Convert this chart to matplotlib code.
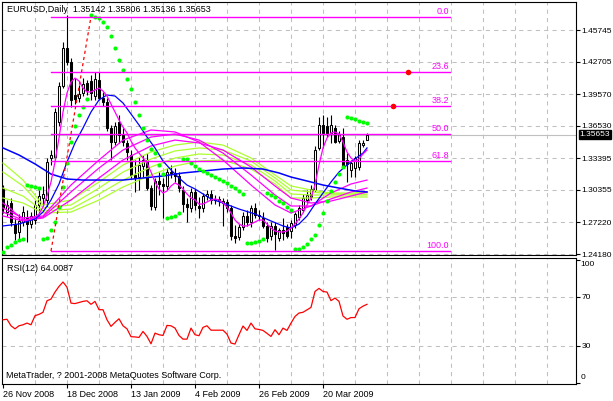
import matplotlib
matplotlib.use('Agg')
import matplotlib.pyplot as plt
import matplotlib.transforms as mtransforms
import numpy as np

plt.rcParams['font.family'] = ['Liberation Sans', 'DejaVu Sans']
plt.rcParams['font.size'] = 6.5

# ---------------- data ----------------
title_text = "EURUSD,Daily  1.35142 1.35806 1.35136 1.35653"
rsi_title = "RSI(12) 64.0087"
copyright_text = "MetaTrader, ? 2001-2008 MetaQuotes Software Corp."

date_ticks = [0, 16, 32, 48, 64, 80]
date_labels = ["26 Nov 2008", "18 Dec 2008", "13 Jan 2009", "4 Feb 2009", "26 Feb 2009", "20 Mar 2009"]
price_ticks = [1.24180, 1.27220, 1.30355, 1.33395, 1.36530, 1.39570, 1.42705, 1.45745]

opens = [1.3054, 1.2822, 1.2909, 1.2707, 1.2630, 1.2726, 1.2765, 1.2707, 1.2745, 1.2890,
         1.2957, 1.2938, 1.3342, 1.3352, 1.3689, 1.4036, 1.4402, 1.4267, 1.3949, 1.3920,
         1.3968, 1.4065, 1.4084, 1.3940, 1.4094, 1.3920, 1.3882, 1.3631, 1.3497, 1.3689,
         1.3564, 1.3487, 1.3371, 1.3179, 1.3160, 1.3265, 1.3323, 1.3054, 1.2871, 1.3121,
         1.3092, 1.3073, 1.3208, 1.3198, 1.3169, 1.3034, 1.2900, 1.2861, 1.3015, 1.2880,
         1.2861, 1.2977, 1.2996, 1.2938, 1.2948, 1.2909, 1.2919, 1.2861, 1.2591, 1.2582,
         1.2678, 1.2784, 1.2726, 1.2861, 1.2794, 1.2765, 1.2688, 1.2591, 1.2688, 1.2572,
         1.2649, 1.2678, 1.2639, 1.2697, 1.2774, 1.2842, 1.2938, 1.2967, 1.3034, 1.3439,
         1.3660, 1.3651, 1.3583, 1.3631, 1.3506, 1.3545, 1.3323, 1.3227, 1.3246, 1.3256,
         1.3468, 1.35142]
highs = [1.3082, 1.2938, 1.2957, 1.2765, 1.2803, 1.2880, 1.2842, 1.2822, 1.2938, 1.3034,
         1.3073, 1.3342, 1.3420, 1.3824, 1.4074, 1.4460, 1.4720, 1.4305, 1.4113, 1.4045,
         1.4113, 1.4094, 1.4142, 1.4171, 1.4171, 1.3978, 1.3920, 1.3660, 1.3689, 1.3757,
         1.3631, 1.3516, 1.3420, 1.3323, 1.3352, 1.3371, 1.3391, 1.3082, 1.3150, 1.3208,
         1.3150, 1.3246, 1.3275, 1.3246, 1.3208, 1.3073, 1.2957, 1.3054, 1.3044, 1.2967,
         1.3005, 1.3034, 1.3034, 1.2986, 1.2977, 1.2957, 1.2948, 1.2890, 1.2697, 1.2707,
         1.2822, 1.2842, 1.2890, 1.2909, 1.2842, 1.2822, 1.2726, 1.2726, 1.2726, 1.2668,
         1.2765, 1.2707, 1.2745, 1.2822, 1.2890, 1.2996, 1.3034, 1.3082, 1.3458, 1.3737,
         1.3757, 1.3737, 1.3757, 1.3660, 1.3602, 1.3631, 1.3391, 1.3323, 1.3362, 1.3516,
         1.3516, 1.35806]
lows = [1.2813, 1.2784, 1.2688, 1.2553, 1.2543, 1.2688, 1.2534, 1.2668, 1.2707, 1.2813,
        1.2880, 1.2871, 1.3275, 1.3323, 1.3651, 1.4017, 1.4238, 1.3834, 1.3863, 1.3882,
        1.3940, 1.3949, 1.3901, 1.3901, 1.3901, 1.3843, 1.3602, 1.3323, 1.3468, 1.3487,
        1.3458, 1.3323, 1.3150, 1.3015, 1.3034, 1.3150, 1.3034, 1.2842, 1.2842, 1.2986,
        1.2765, 1.3034, 1.3150, 1.3111, 1.3015, 1.2822, 1.2726, 1.2822, 1.2842, 1.2765,
        1.2822, 1.2938, 1.2900, 1.2900, 1.2880, 1.2688, 1.2822, 1.2553, 1.2524, 1.2553,
        1.2649, 1.2688, 1.2678, 1.2765, 1.2745, 1.2668, 1.2534, 1.2553, 1.2457, 1.2543,
        1.2553, 1.2572, 1.2572, 1.2668, 1.2745, 1.2822, 1.2909, 1.2938, 1.3015, 1.3420,
        1.3439, 1.3545, 1.3487, 1.3487, 1.3487, 1.3256, 1.3111, 1.3160, 1.3160, 1.3227,
        1.3448, 1.35136]
closes = [1.2861, 1.2890, 1.2726, 1.2620, 1.2736, 1.2822, 1.2707, 1.2784, 1.2890, 1.2977,
          1.2996, 1.3304, 1.3371, 1.3785, 1.4036, 1.4402, 1.4267, 1.3901, 1.3911, 1.3959,
          1.4055, 1.3997, 1.3968, 1.4103, 1.3920, 1.3882, 1.3631, 1.3497, 1.3651, 1.3564,
          1.3497, 1.3400, 1.3179, 1.3150, 1.3275, 1.3323, 1.3054, 1.2880, 1.3121, 1.3092,
          1.3073, 1.3208, 1.3198, 1.3169, 1.3054, 1.2900, 1.2871, 1.3015, 1.2890, 1.2861,
          1.2977, 1.2996, 1.2938, 1.2948, 1.2928, 1.2928, 1.2861, 1.2591, 1.2572, 1.2678,
          1.2784, 1.2726, 1.2861, 1.2794, 1.2784, 1.2688, 1.2572, 1.2688, 1.2611, 1.2649,
          1.2620, 1.2591, 1.2716, 1.2803, 1.2861, 1.2957, 1.2986, 1.3044, 1.3420, 1.3660,
          1.3583, 1.3583, 1.3660, 1.3497, 1.3574, 1.3275, 1.3285, 1.3294, 1.3342, 1.3487,
          1.3487, 1.35653]

sar = [1.2437, 1.2485, 1.2505, 1.2534, 1.2553, 1.2562, 1.3082, 1.3073, 1.3063, 1.3053,
       1.2562, 1.2572, 1.2649, 1.2726, 1.2870, 1.3063, 1.3294, 1.3496, 1.3650, 1.3756,
       1.3833, 1.3910, 1.4719, 1.4700, 1.4690, 1.4652, 1.4603, 1.4517, 1.4401, 1.4286,
       1.4189, 1.4103, 1.4006, 1.3881, 1.3756, 1.3631, 1.3515, 1.3429, 1.3390, 1.3275,
       1.3188, 1.2765, 1.2774, 1.2784, 1.2813, 1.3333, 1.3333, 1.3294, 1.3265, 1.3236,
       1.3217, 1.3198, 1.3179, 1.3159, 1.3140, 1.3121, 1.3102, 1.3073, 1.3053, 1.3025,
       1.2996, 1.2524, 1.2524, 1.2534, 1.2543, 1.2562, 1.3005, 1.2986, 1.2967, 1.2928,
       1.2909, 1.2870, 1.2842, 1.2466, 1.2466, 1.2485, 1.2514, 1.2562, 1.2601, 1.2697,
       1.2813, 1.2928, 1.3025, 1.3111, 1.3188, 1.3256, 1.3737, 1.3727, 1.3718, 1.3698,
       1.3689, 1.3679]

ma_fast = [1.2909, 1.2880, 1.2851, 1.2813, 1.2784, 1.2755, 1.2745, 1.2755, 1.2774, 1.2803,
           1.2871, 1.2976, 1.3111, 1.3304, 1.3535, 1.3785, 1.3968, 1.4074, 1.4112, 1.4084,
           1.4016, 1.3978, 1.3978, 1.3997, 1.4016, 1.3987, 1.3939, 1.3862, 1.3785, 1.3708,
           1.3641, 1.3583, 1.3506, 1.3439, 1.3390, 1.3342, 1.3294, 1.3207, 1.3111, 1.3044,
           1.3005, 1.3025, 1.3073, 1.3102, 1.3082, 1.3044, 1.2996, 1.2957, 1.2938, 1.2899,
           1.2899, 1.2919, 1.2938, 1.2948, 1.2938, 1.2909, 1.2871, 1.2813, 1.2745, 1.2707,
           1.2688, 1.2688, 1.2707, 1.2726, 1.2745, 1.2745, 1.2707, 1.2668, 1.2639, 1.2630,
           1.2630, 1.2639, 1.2668, 1.2707, 1.2755, 1.2813, 1.2890, 1.2957, 1.3082, 1.3275,
           1.3439, 1.3535, 1.3583, 1.3593, 1.3573, 1.3496, 1.3400, 1.3342, 1.3313, 1.3333,
           1.3381, 1.3419]

ma_mid_bars = [0, 4, 8, 10, 12, 14, 16, 18, 20, 22, 24, 26, 28, 30, 32, 34, 36, 38, 40, 42,
               44, 46, 48, 50, 52, 55, 59, 63, 67, 70, 72, 74, 76, 78, 80, 82, 84, 86, 88, 90, 91]
ma_mid = [1.2688, 1.2707, 1.2755, 1.2822, 1.2938, 1.3092, 1.3304, 1.3487, 1.3631, 1.3785,
          1.3901, 1.3949, 1.3939, 1.3872, 1.3766, 1.3660, 1.3544, 1.3439, 1.3313, 1.3227,
          1.3150, 1.3082, 1.3044, 1.2996, 1.2948, 1.2909, 1.2851, 1.2803, 1.2736, 1.2688,
          1.2668, 1.2707, 1.2784, 1.2899, 1.3005, 1.3111, 1.3207, 1.3275, 1.3333, 1.3390, 1.3439]

ma_slow_bars = [0, 4, 8, 12, 16, 20, 24, 30, 35, 40, 45, 50, 55, 60, 65, 69, 72, 76, 80, 84, 88, 91]
ma_slow = [1.3439, 1.3371, 1.3285, 1.3188, 1.3140, 1.3130, 1.3130, 1.3130, 1.3150, 1.3169,
           1.3198, 1.3217, 1.3236, 1.3246, 1.3236, 1.3198, 1.3159, 1.3121, 1.3082, 1.3053,
           1.3025, 1.3015]

ribbon_bars = [0, 5, 10, 17, 24, 30, 37, 43, 49, 55, 62, 68, 72, 77, 82, 87, 91]
magenta_ribbon = [
    [1.2861, 1.2765, 1.2784, 1.3082, 1.3323, 1.3515, 1.3612, 1.3593, 1.3496, 1.3323,
     1.3082, 1.2890, 1.2813, 1.2880, 1.3005, 1.3092, 1.3130],
    [1.2822, 1.2745, 1.2774, 1.3015, 1.3246, 1.3419, 1.3544, 1.3573, 1.3515, 1.3390,
     1.3179, 1.2986, 1.2880, 1.2880, 1.2948, 1.3015, 1.3053],
    [1.2784, 1.2736, 1.2765, 1.2938, 1.3150, 1.3323, 1.3458, 1.3515, 1.3487, 1.3419,
     1.3256, 1.3073, 1.2957, 1.2909, 1.2928, 1.2976, 1.3015],
]
green_ribbon = [
    [1.3294, 1.3130, 1.2890, 1.2938, 1.3111, 1.3275, 1.3400, 1.3467, 1.3496, 1.3467,
     1.3342, 1.3179, 1.3073, 1.3034, 1.3005, 1.3005, 1.3015],
    [1.3207, 1.3073, 1.2861, 1.2890, 1.3053, 1.3207, 1.3333, 1.3410, 1.3439, 1.3419,
     1.3313, 1.3150, 1.3034, 1.3015, 1.2996, 1.2996, 1.2996],
    [1.3053, 1.2976, 1.2832, 1.2851, 1.2996, 1.3130, 1.3256, 1.3342, 1.3381, 1.3371,
     1.3275, 1.3121, 1.2996, 1.2986, 1.2986, 1.2986, 1.2986],
    [1.2957, 1.2909, 1.2813, 1.2822, 1.2938, 1.3063, 1.3179, 1.3265, 1.3313, 1.3323,
     1.3236, 1.3092, 1.2957, 1.2957, 1.2967, 1.2967, 1.2967],
]

rsi = [51.4, 51.8, 46.5, 44.0, 46.5, 47.3, 48.7, 47.3, 54.7, 55.8,
       57.5, 66.9, 68.3, 74.0, 78.6, 82.2, 78.0, 65.0, 64.6, 65.5,
       66.4, 66.9, 64.0, 66.4, 59.6, 59.6, 51.4, 46.0, 49.3, 52.2,
       46.5, 44.0, 37.6, 37.4, 37.0, 41.9, 37.8, 31.8, 40.5, 39.2,
       38.6, 46.8, 46.5, 44.6, 38.6, 35.6, 35.6, 44.6, 39.2, 38.4,
       45.2, 46.5, 42.9, 42.9, 42.9, 42.9, 39.7, 32.4, 31.6, 39.2,
       46.3, 42.7, 48.7, 44.0, 43.5, 42.7, 40.3, 37.8, 43.3, 39.2,
       44.6, 42.7, 48.7, 54.1, 56.9, 57.5, 59.5, 61.5, 74.5, 77.0,
       74.5, 74.0, 67.0, 69.1, 66.4, 54.5, 51.8, 53.2, 53.2, 60.4,
       62.5, 64.0]

fib_high = 1.4703
fib_low = 1.2447
fib_start_bar = 12
fib_top_bar = 22
fib_end_bar = 111.75
fib_levels = [0.0, 23.6, 38.2, 50.0, 61.8, 100.0]
marker_bars = [101.25, 97.6]
marker_levels = [23.6, 38.2]
last_price = 1.35653

# ---------------- layout ----------------
W, H = 613, 401
fig = plt.figure(figsize=(W / 100, H / 100), dpi=100)
fig.patch.set_facecolor('white')
ax = fig.add_axes([2 / W, 1 - 254.5 / H, 574 / W, 253 / H])
axr = fig.add_axes([2 / W, 1 - 383.5 / H, 574 / W, 125.5 / H])

xmin, xmax = -0.25, 143.25
for a in (ax, axr):
    a.set_xlim(xmin, xmax)
    for s in a.spines.values():
        s.set_color('black')
        s.set_linewidth(0.8)

ax.set_ylim(1.24132, 1.48489)
axr.set_ylim(-0.6, 101.8)

grid_kw = dict(color='#C0C0C0', lw=0.75, linestyle=(0, (4, 4)), zorder=0)
for b in range(8, 140, 8):
    ax.axvline(b, **grid_kw)
    axr.axvline(b, **grid_kw)
for p in price_ticks:
    ax.axhline(p, **grid_kw)
for v in (30, 70):
    axr.axhline(v, **grid_kw)

ylab_size = 6.0

# price axis
ax.yaxis.tick_right()
ax.set_yticks(price_ticks)
ax.set_yticklabels([f"{p:.5f}" for p in price_ticks])
ax.tick_params(axis='y', direction='out', length=3, width=0.8, pad=1, labelsize=ylab_size, colors='black')
ax.set_xticks([])

# current price line and label
ax.axhline(last_price, color='#C0C0C0', lw=0.8, zorder=1)
trans = mtransforms.blended_transform_factory(ax.transAxes, ax.transData)
ax.text(1.0 + 3.5 / 574, last_price, f"{last_price:.5f}", transform=trans, color='white', fontsize=ylab_size,
        va='center', ha='left', zorder=10, clip_on=False,
        bbox=dict(boxstyle='square,pad=0.12', fc='black', ec='black'))

# candles
x = np.arange(len(closes))
o = np.array(opens); h = np.array(highs); l = np.array(lows); c = np.array(closes)
ax.vlines(x, l, h, color='black', lw=0.8, zorder=3)
up = c >= o
ax.bar(x[up], c[up] - o[up], bottom=o[up], width=0.5, facecolor='white', edgecolor='black',
       lw=0.75, zorder=4)
ax.bar(x[~up], o[~up] - c[~up], bottom=c[~up], width=0.5, facecolor='black', edgecolor='black',
       lw=0.75, zorder=4)

# moving averages
for series in green_ribbon:
    ax.plot(ribbon_bars, series, color='#ADFF2F', lw=0.9, zorder=5)
for series in magenta_ribbon:
    ax.plot(ribbon_bars, series, color='#FF00FF', lw=0.9, zorder=5)
ax.plot(ma_slow_bars, ma_slow, color='#0000FF', lw=1.1, zorder=5)
ax.plot(ma_mid_bars, ma_mid, color='#0000FF', lw=0.9, zorder=5)
ax.plot(x, ma_fast, color='#FF00FF', lw=0.9, zorder=5)

# parabolic SAR
ax.plot(x, sar, linestyle='none', marker='o', markersize=3.0, color='#00FF00',
        markeredgewidth=0, zorder=6)

# Fibonacci retracement
rng = fib_high - fib_low
for lev in fib_levels:
    p = fib_high - rng * lev / 100.0
    ax.plot([fib_start_bar, fib_end_bar], [p, p], color='#FF00FF', lw=1.0, zorder=7)
    ax.annotate(f"{lev:.1f}", xy=(fib_end_bar - 0.3, p), xytext=(0, 0.8), textcoords='offset points',
                ha='right', va='bottom', color='#FF00FF', fontsize=6.5, zorder=8)
ax.plot([fib_start_bar, fib_top_bar], [fib_low, fib_high], color='red', lw=0.9,
        linestyle=(0, (2.5, 2.5)), zorder=7)
for b, lev in zip(marker_bars, marker_levels):
    ax.plot([b], [fib_high - rng * lev / 100.0], marker='o', color='red', markersize=4,
            markeredgewidth=0, zorder=8)

# RSI panel
axr.plot(x, rsi, color='red', lw=0.9, zorder=5)
axr.yaxis.tick_right()
axr.set_yticks([0, 30, 70, 100])
axr.set_yticklabels(['', '30', '70', ''])
axr.tick_params(axis='y', direction='out', length=3, width=0.8, pad=1, labelsize=ylab_size)
transr = mtransforms.blended_transform_factory(axr.transAxes, axr.transData)
axr.text(1.0 + 4.5 / 574, 96.1, "100", transform=transr, fontsize=ylab_size, va='center', ha='left', clip_on=False)
axr.text(1.0 + 4.5 / 574, 3.9, "0", transform=transr, fontsize=ylab_size, va='center', ha='left', clip_on=False)
axr.set_xticks(date_ticks)
axr.set_xticklabels(date_labels, ha='left')
axr.tick_params(axis='x', direction='out', length=3, width=0.8, pad=1.5, labelsize=6.5)

# texts
fig.text(7 / W, 1 - 10 / H, title_text, fontsize=6.5, va='center', ha='left')
fig.text(7 / W, 1 - 268.5 / H, rsi_title, fontsize=6.5, va='center', ha='left')
fig.text(6 / W, 1 - 375 / H, copyright_text, fontsize=6.5, va='center', ha='left')

fig.savefig('out.png', dpi=100, facecolor='white')
